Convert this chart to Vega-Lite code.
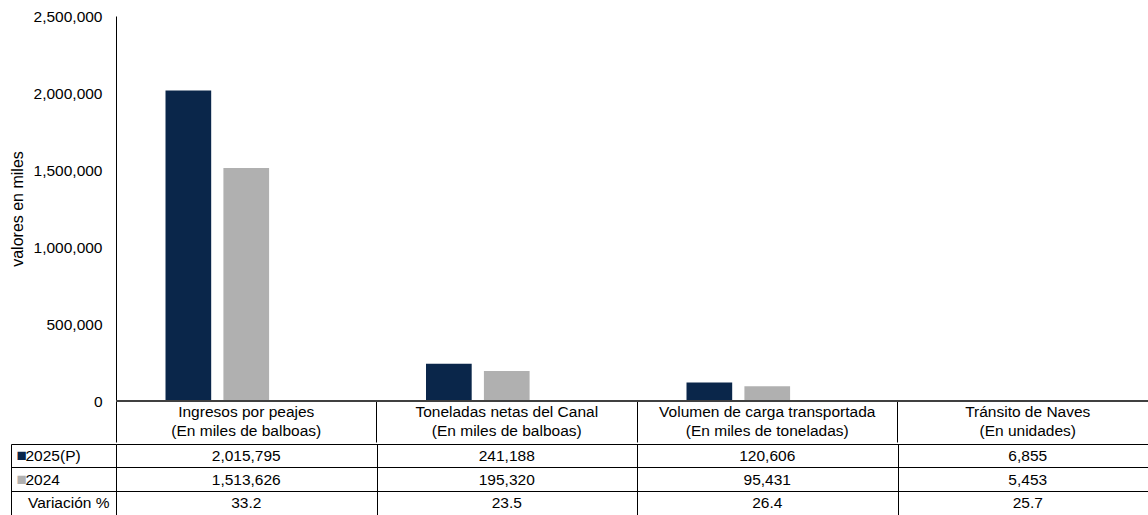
{
  "$schema": "https://vega.github.io/schema/vega-lite/v6.json",
  "background": "white",
  "padding": {"left": 9, "top": 9, "right": 0, "bottom": 0},
  "config": {
    "font": "Liberation Sans",
    "view": {"stroke": null},
    "concat": {"spacing": 0},
    "axis": {"labelColor": "#000000", "titleColor": "#000000", "labelFontSize": 15.5, "titleFontSize": 16, "titleFontWeight": "normal"},
    "text": {"fontSize": 15.5, "color": "#000000"}
  },
  "datasets": {
    "valores": [
      {"categoria": "Ingresos por peajes (En miles de balboas)", "serie": "2025(P)", "valor": 2015795},
      {"categoria": "Ingresos por peajes (En miles de balboas)", "serie": "2024", "valor": 1513626},
      {"categoria": "Ingresos por peajes (En miles de balboas)", "serie": "Variación %", "valor": 33.2},
      {"categoria": "Toneladas netas del Canal (En miles de balboas)", "serie": "2025(P)", "valor": 241188},
      {"categoria": "Toneladas netas del Canal (En miles de balboas)", "serie": "2024", "valor": 195320},
      {"categoria": "Toneladas netas del Canal (En miles de balboas)", "serie": "Variación %", "valor": 23.5},
      {"categoria": "Volumen de carga transportada (En miles de toneladas)", "serie": "2025(P)", "valor": 120606},
      {"categoria": "Volumen de carga transportada (En miles de toneladas)", "serie": "2024", "valor": 95431},
      {"categoria": "Volumen de carga transportada (En miles de toneladas)", "serie": "Variación %", "valor": 26.4},
      {"categoria": "Tránsito de Naves (En unidades)", "serie": "2025(P)", "valor": 6855},
      {"categoria": "Tránsito de Naves (En unidades)", "serie": "2024", "valor": 5453},
      {"categoria": "Tránsito de Naves (En unidades)", "serie": "Variación %", "valor": 25.7}
    ]
  },
  "resolve": {"scale": {"x": "independent", "y": "independent", "color": "independent"}},
  "vconcat": [
    {
      "width": 1032,
      "height": 385,
      "data": {"name": "valores"},
      "layer": [
        {
          "mark": {"type": "bar"},
          "encoding": {
            "x": {
              "field": "categoria", "type": "nominal",
              "sort": ["Ingresos por peajes (En miles de balboas)", "Toneladas netas del Canal (En miles de balboas)", "Volumen de carga transportada (En miles de toneladas)", "Tránsito de Naves (En unidades)"],
              "scale": {"range": [0, 1042], "paddingInner": 0, "paddingOuter": 0},
              "axis": {"title": null, "domain": false, "ticks": true, "bandPosition": 0, "tickSize": 41, "tickColor": "#000000", "labelPadding": -38, "labelAngle": 0, "labelBaseline": "top", "labelLimit": 0, "labelOverlap": false, "labelLineHeight": 19.5, "labelExpr": "split(replace(datum.label, ' (', '|('), '|')"}
            },
            "xOffset": {
              "field": "serie", "type": "nominal",
              "sort": ["2025(P)", "2024", "Variación %"],
              "scale": {"paddingInner": 0.211, "paddingOuter": 0.855}
            },
            "y": {
              "field": "valor", "type": "quantitative",
              "scale": {"domain": [0, 2500000], "nice": false},
              "axis": {"title": "valores en miles", "values": [0, 500000, 1000000, 1500000, 2000000, 2500000], "labelExpr": "format(datum.value, ',')", "grid": false, "ticks": false, "domain": true, "domainColor": "#000000", "labelPadding": 14, "titlePadding": 8}
            },
            "color": {
              "field": "serie", "type": "nominal",
              "scale": {"domain": ["2025(P)", "2024", "Variación %"], "range": ["#0A264A", "#B0B0B0", "#FFFFFF"]},
              "legend": null
            }
          }
        },
        {
          "mark": {"type": "rule", "color": "#404040", "strokeWidth": 1.5},
          "encoding": {
            "y": {
              "datum": 0, "type": "quantitative",
              "axis": {"title": "valores en miles", "values": [0, 500000, 1000000, 1500000, 2000000, 2500000], "labelExpr": "format(datum.value, ',')", "grid": false, "ticks": false, "domain": true, "domainColor": "#000000", "labelPadding": 14, "titlePadding": 8}
            }
          }
        }
      ]
    },
    {
      "width": 1032,
      "height": 71,
      "data": {"name": "valores"},
      "encoding": {
        "x": {
          "field": "categoria", "type": "nominal",
          "sort": ["Ingresos por peajes (En miles de balboas)", "Toneladas netas del Canal (En miles de balboas)", "Volumen de carga transportada (En miles de toneladas)", "Tránsito de Naves (En unidades)"],
          "scale": {"range": [0, 1042], "paddingInner": 0, "paddingOuter": 0},
          "axis": {"orient": "top", "title": null, "labels": false, "ticks": false, "domain": false, "grid": true, "tickOffset": -130.25, "gridColor": "#000000", "gridOpacity": 1}
        }
      },
      "layer": [
        {
          "transform": [{"filter": "datum.serie === '2025(P)'"}],
          "mark": {"type": "text"},
          "encoding": {
            "y": {
              "field": "serie", "type": "nominal",
              "scale": {"type": "band", "domain": ["2025(P)", "2024", "Variación %"], "paddingInner": 0, "paddingOuter": 0},
              "axis": {"orient": "left", "offset": 105, "title": null, "domain": true, "domainColor": "#000000", "ticks": true, "tickSize": -105, "tickColor": "#000000", "bandPosition": 0, "grid": true, "gridColor": "#000000", "gridOpacity": 1, "labelExpr": "datum.value === 'Variación %' ? '' : '■'", "labelAlign": "left", "labelPadding": 100, "labelFontSize": 17, "labelColor": {"condition": {"test": "datum.value === '2025(P)'", "value": "#0A264A"}, "value": "#B0B0B0"}}
            },
            "text": {"field": "valor", "type": "quantitative", "format": ","}
          }
        },
        {
          "transform": [{"filter": "datum.serie === '2024'"}],
          "mark": {"type": "text"},
          "encoding": {
            "y": {
              "field": "serie", "type": "nominal",
              "scale": {"type": "band", "domain": ["2025(P)", "2024", "Variación %"], "paddingInner": 0, "paddingOuter": 0},
              "axis": {"orient": "left", "offset": 0, "title": null, "domain": false, "ticks": false, "grid": false, "labelExpr": "datum.value === 'Variación %' ? '' : datum.value", "labelAlign": "left", "labelPadding": 91}
            },
            "text": {"field": "valor", "type": "quantitative", "format": ","}
          }
        },
        {
          "transform": [{"filter": "datum.serie === 'Variación %'"}],
          "mark": {"type": "text"},
          "encoding": {
            "y": {
              "field": "serie", "type": "nominal",
              "scale": {"type": "band", "domain": ["2025(P)", "2024", "Variación %"], "paddingInner": 0, "paddingOuter": 0},
              "axis": {"orient": "left", "offset": 0, "title": null, "domain": false, "ticks": false, "grid": false, "labelExpr": "datum.value === 'Variación %' ? datum.value : ''", "labelAlign": "right", "labelPadding": 7}
            },
            "text": {"field": "valor", "type": "quantitative", "format": ".1f"}
          }
        }
      ],
      "resolve": {"axis": {"y": "independent"}}
    }
  ]
}
